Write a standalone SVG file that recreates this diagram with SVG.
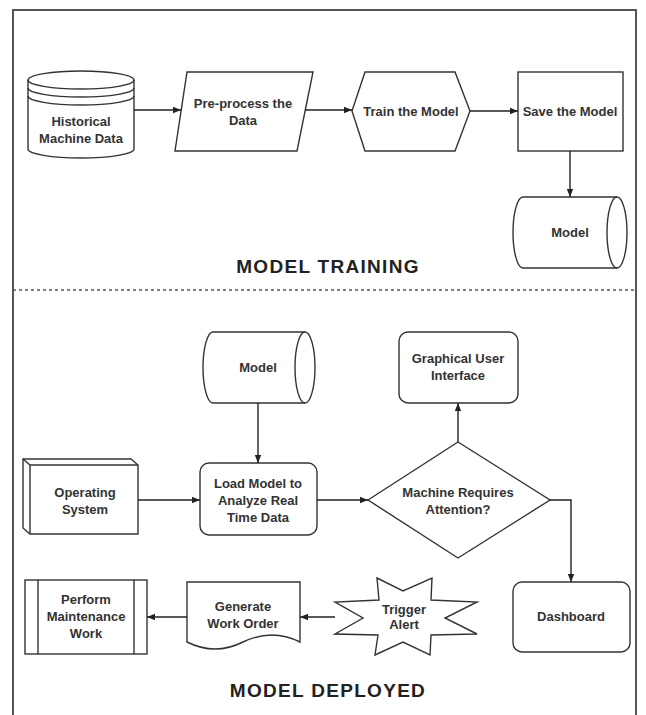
<svg xmlns="http://www.w3.org/2000/svg" width="646" height="715" viewBox="0 0 646 715">
<defs>
<marker id="ah" viewBox="0 0 10 10" refX="10" refY="5" markerWidth="8" markerHeight="8" markerUnits="userSpaceOnUse" orient="auto">
<path d="M0,1 L10,5 L0,9 Z" fill="#222"/>
</marker>
<style>
.s{fill:#fff;stroke:#333;stroke-width:1.4}
.l{fill:none;stroke:#333;stroke-width:1.4}
.c{fill:none;stroke:#222;stroke-width:1.4;marker-end:url(#ah)}
.t{font-family:"Liberation Sans",Arial,sans-serif;font-weight:bold;font-size:13px;fill:#333;text-anchor:middle}
.h{font-family:"Liberation Sans",Arial,sans-serif;font-weight:bold;font-size:19px;fill:#222;text-anchor:middle;letter-spacing:1.3px}
</style>
</defs>
<rect width="646" height="715" fill="#fff"/>
<rect x="13" y="10" width="623" height="715" fill="none" stroke="#555" stroke-width="2"/>
<line x1="13" y1="290" x2="636" y2="290" stroke="#555" stroke-width="1.4" stroke-dasharray="3 3"/>

<g id="historical">
<path class="s" d="M28,80 A53,9 0 0 1 134,80 L134,149 A53,9 0 0 1 28,149 Z"/>
<path class="l" d="M28,80 A53,9 0 0 0 134,80 M28,88 A53,9 0 0 0 134,88 M28,96 A53,9 0 0 0 134,96"/>
<text class="t" x="81" y="126">Historical</text>
<text class="t" x="81" y="143">Machine Data</text>
</g>
<g id="preprocess">
<path class="s" d="M187,72 L313,72 L297,151 L175,151 Z"/>
<text class="t" x="243" y="108">Pre-process the</text>
<text class="t" x="243" y="125">Data</text>
</g>
<g id="train">
<path class="s" d="M365,72 L455,72 L470,111 L455,151 L365,151 L352,111 Z"/>
<text class="t" x="411" y="116">Train the Model</text>
</g>
<g id="save">
<rect class="s" x="518" y="72" width="105" height="79"/>
<text class="t" x="570" y="116">Save the Model</text>
</g>
<g id="model1">
<path class="s" d="M523,197 L617,197 A10,35.5 0 0 1 617,268 L523,268 A10,35.5 0 0 1 523,197 Z"/>
<path class="l" d="M617,197 A10,35.5 0 0 0 617,268"/>
<text class="t" x="570" y="237">Model</text>
</g>
<text class="h" x="328" y="273">MODEL TRAINING</text>

<g id="model2">
<path class="s" d="M213,332 L305,332 A10,35.5 0 0 1 305,403 L213,403 A10,35.5 0 0 1 213,332 Z"/>
<path class="l" d="M305,332 A10,35.5 0 0 0 305,403"/>
<text class="t" x="258" y="372">Model</text>
</g>
<g id="load">
<rect class="s" x="200" y="463" width="117" height="72" rx="9"/>
<text class="t" x="258" y="488">Load Model to</text>
<text class="t" x="258" y="505">Analyze Real</text>
<text class="t" x="258" y="522">Time Data</text>
</g>
<g id="os">
<path class="s" d="M23,459 L131,459 L138,465 L138,534 L30,534 L23,528 Z"/>
<path class="l" d="M23,459 L30,465 L138,465 M30,465 L30,534"/>
<text class="t" x="85" y="497">Operating</text>
<text class="t" x="85" y="514">System</text>
</g>
<g id="decision">
<path class="s" d="M368,500 L458,442 L550,500 L458,558 Z"/>
<text class="t" x="458" y="497">Machine Requires</text>
<text class="t" x="458" y="514">Attention?</text>
</g>
<g id="gui">
<rect class="s" x="399" y="332" width="119" height="71" rx="9"/>
<text class="t" x="458" y="363">Graphical User</text>
<text class="t" x="458" y="380">Interface</text>
</g>
<g id="dashboard">
<rect class="s" x="513" y="582" width="117" height="70" rx="9"/>
<text class="t" x="571" y="621">Dashboard</text>
</g>
<g id="alert">
<path class="s" d="M377,578 L403,591 L432,578 L431,600 L477,602 L445,618 L477,634 L431,635 L430,655 L403,642 L375,655 L378,635 L335,634 L363,618 L335,602 L379,600 Z"/>
<text class="t" x="404" y="614">Trigger</text>
<text class="t" x="404" y="629">Alert</text>
</g>
<g id="workorder">
<path class="s" d="M187,582 L300,582 L300,642 Q272,628 243,642 Q215,656 187,642 Z"/>
<text class="t" x="243" y="611">Generate</text>
<text class="t" x="243" y="628">Work Order</text>
</g>
<g id="maintenance">
<rect class="s" x="25" y="580" width="122" height="74"/>
<path class="l" d="M38,580 L38,654 M134,580 L134,654"/>
<text class="t" x="86" y="604">Perform</text>
<text class="t" x="86" y="621">Maintenance</text>
<text class="t" x="86" y="638">Work</text>
</g>
<text class="h" x="328" y="697">MODEL DEPLOYED</text>

<g id="connectors">
<path class="c" d="M134,110 L181,110"/>
<path class="c" d="M305,110 L352,110"/>
<path class="c" d="M470,111 L518,111"/>
<path class="c" d="M570,151 L570,197"/>
<path class="c" d="M258,403 L258,463"/>
<path class="c" d="M138,500 L200,500"/>
<path class="c" d="M317,500 L368,500"/>
<path class="c" d="M458,442 L458,403"/>
<path class="c" d="M550,500 L571,500 L571,582"/>
<path class="c" d="M335,617 L300,617"/>
<path class="c" d="M187,617 L147,617"/>
</g>
</svg>
